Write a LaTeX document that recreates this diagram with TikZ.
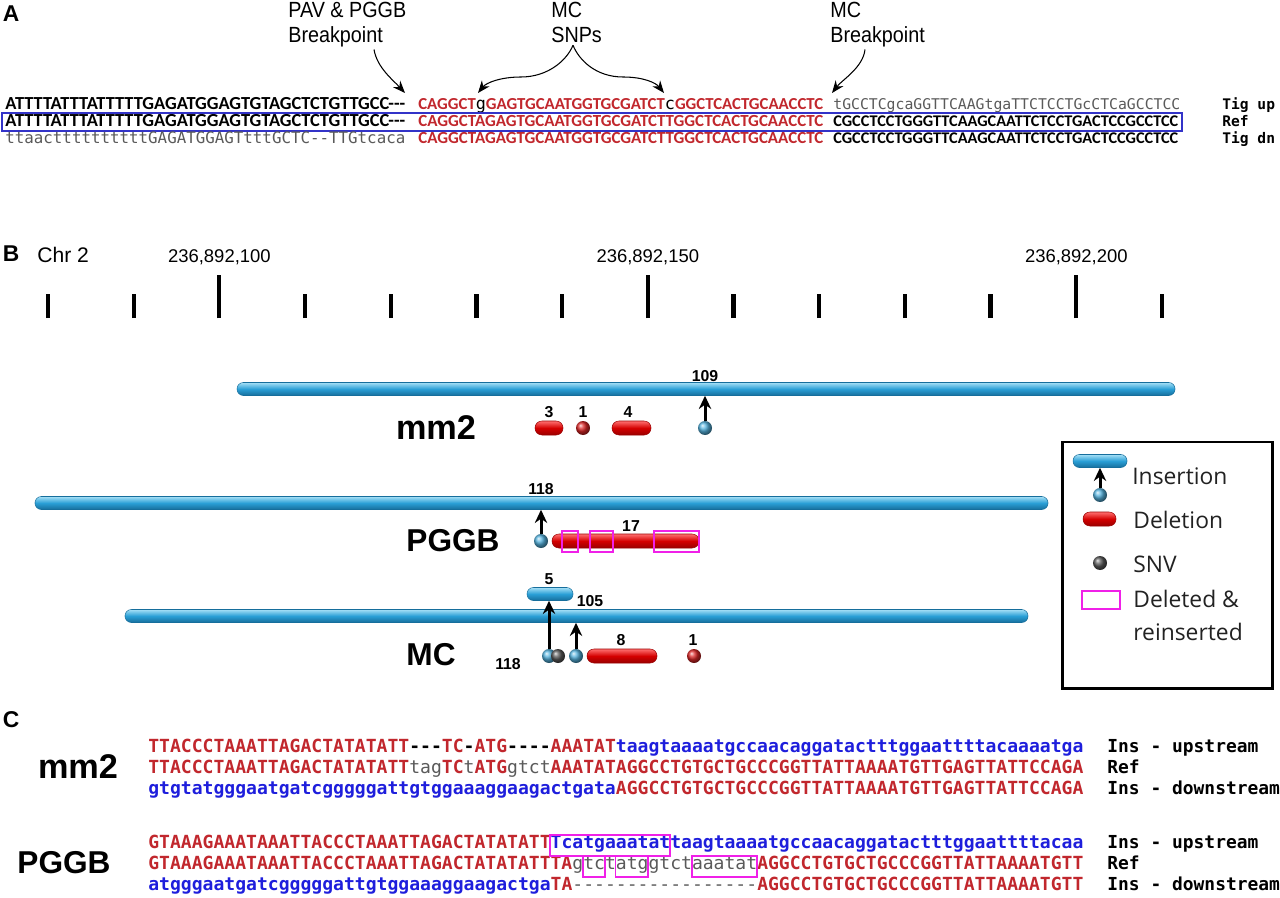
\documentclass[tikz,border=0pt]{standalone}
\usepackage{fontspec}
\setmainfont{Liberation Sans}
\newfontfamily\calfont{Carlito}
\newfontfamily\monofam{DejaVu Sans Mono}
\newfontfamily\legfont{Open Sans}
\newfontfamily\notefont{Liberation Sans}[FakeStretch=0.9]
\usepackage{graphicx}
\usetikzlibrary{positioning,arrows.meta,shadings,calc}
\newlength{\pxu}\setlength{\pxu}{0.02cm}
\definecolor{seqred}{HTML}{C1272D}
\definecolor{seqblue}{HTML}{1E1EDC}
\definecolor{seqgray}{HTML}{5A5A5A}
\definecolor{refline}{HTML}{3333C8}
\definecolor{insblue}{HTML}{2A9FD6}
\definecolor{inslight}{HTML}{A6E0F7}
\definecolor{insdark}{HTML}{166E9C}
\definecolor{delred}{HTML}{D40000}
\definecolor{dellight}{HTML}{FF7070}
\definecolor{deldark}{HTML}{9A0000}
\definecolor{reins}{HTML}{F020E8}
\definecolor{legink}{HTML}{222222}
\tikzset{
  panel/.style    = {font=\bfseries\fontsize{13}{15}\selectfont, inner sep=0pt},
  annot/.style    = {font=\notefont\fontsize{12.5}{14.2}\selectfont, align=left, inner sep=0pt},
  callout/.style  = {-{Stealth[length=7pt,width=5.5pt]}, line width=0.6pt},
  seqtxt/.style   = {anchor=base west, inner sep=0pt},
  taglbl/.style   = {anchor=base west, inner sep=0pt, font=\monofam\bfseries\fontsize{8.3}{10}\selectfont},
  rowlbl/.style   = {anchor=base west, inner sep=0pt, font=\monofam\bfseries\fontsize{10.2}{12}\selectfont},
  refframe/.style = {draw=refline, line width=0.6pt},
  tick/.style     = {line width=2.4pt},
  coordlbl/.style = {font=\fontsize{10.5}{12}\selectfont, inner sep=0pt},
  insbar/.style   = {draw=insdark, line width=0.3pt, top color=inslight, bottom color=insdark,
                     middle color=insblue, rounded corners=3.6pt, minimum height=13*0.02cm,
                     minimum width=#1*0.02cm, inner sep=0pt},
  delpill/.style  = {draw=deldark, line width=0.3pt, top color=dellight, bottom color=deldark,
                     middle color=delred, rounded corners=3.9pt, minimum height=14*0.02cm,
                     minimum width=#1*0.02cm, inner sep=0pt},
  insdot/.style   = {circle, inner sep=0pt, minimum size=14*0.02cm, ball color=insblue!80!white},
  deldot/.style   = {circle, inner sep=0pt, minimum size=14*0.02cm, ball color=delred!85!white},
  snvdot/.style   = {circle, inner sep=0pt, minimum size=14*0.02cm, ball color=black!65},
  insarrow/.style = {-{Stealth[length=7.5pt,width=7pt]}, line width=1.7pt},
  reinsbox/.style = {draw=reins, line width=1.1pt},
  numlbl/.style   = {font=\bfseries\fontsize{9}{10}\selectfont, inner sep=0pt},
  track/.style    = {font=\bfseries\fontsize{18}{20}\selectfont, inner sep=0pt},
  legtxt/.style   = {anchor=west, inner sep=0pt, font=\legfont\fontsize{13}{15}\selectfont, text=legink},
}
\newcommand{\seqat}[5]{\node[seqtxt] (#1) at (#2,#3) {\resizebox{#4\pxu}{!}{#5}};}
\newcommand{\calb}{\calfont\bfseries\fontsize{10}{12}\selectfont}
\newcommand{\monoa}{\monofam\fontsize{8.4}{10}\selectfont}
\newcommand{\monoc}{\monofam\bfseries\fontsize{10.27}{12}\selectfont}
\newcommand{\snpch}[1]{{\monofam\mdseries\color{black}#1}}
\newcommand{\sqR}[1]{{\color{seqred}#1}}
\newcommand{\sqB}[1]{{\color{seqblue}#1}}
\newcommand{\sqG}[1]{{\mdseries\color{seqgray}#1}}

\begin{document}
\begin{tikzpicture}[x=0.02cm,y=-0.02cm]
\useasboundingbox (0,0) rectangle (1280,898);

% ------------------------------------------------------------------ A
\node[panel] (lblA) at (11,14) {A};
\node[annot, anchor=north west] (pavlbl)  at (288,2) {PAV \& PGGB\\Breakpoint};
\node[annot, anchor=north west] (snplbl)  at (551,2) {MC\\SNPs};
\node[annot, anchor=north west] (mcbplbl) at (830,2) {MC\\Breakpoint};

\seqat{upL}{5}{109.5}{400}{\calb ATTTTATTTATTTTTGAGATGGAGTGTAGCTCTGTTGCC-{}-{}-}
\seqat{upM}{418}{109.5}{405}{\calb\color{seqred}CAGGCT\snpch{g}GAGTGCAATGGTGCGATCT\snpch{c}GGCTCACTGCAACCTC}
\seqat{upR}{833}{109.5}{347}{\monoa\color{seqgray}tGCCTCgcaGGTTCAAGtgaTTCTCCTGcCTCaGCCTCC}
\node[taglbl] (tagup) at (1222,109.5) {Tig up};

\seqat{refL}{5}{126.5}{400}{\calb ATTTTATTTATTTTTGAGATGGAGTGTAGCTCTGTTGCC-{}-{}-}
\seqat{refM}{418}{126.5}{405}{\calb\color{seqred}CAGGCTAGAGTGCAATGGTGCGATCTTGGCTCACTGCAACCTC}
\seqat{refR}{833}{126.5}{345}{\calb CGCCTCCTGGGTTCAAGCAATTCTCCTGACTCCGCCTCC}
\node[taglbl] (tagref) at (1222,126.5) {Ref};
\draw[refframe] (2,113) rectangle (1182,131);

\seqat{dnL}{5}{143.5}{400}{\monoa\color{seqgray}ttaacttttttttttGAGATGGAGTtttGCTC-{}-TTGtcaca}
\seqat{dnM}{418}{143.5}{405}{\calb\color{seqred}CAGGCTAGAGTGCAATGGTGCGATCTTGGCTCACTGCAACCTC}
\seqat{dnR}{833}{143.5}{345}{\calb CGCCTCCTGGGTTCAAGCAATTCTCCTGACTCCGCCTCC}
\node[taglbl] (tagdn) at (1222,143.5) {Tig dn};

\coordinate (pavtip)  at (405,93);
\coordinate (snptipL) at (478,93);
\coordinate (snptipR) at (664,93);
\coordinate (mcbptip) at (832,93);
\coordinate (snpfork) at ($(snplbl.south west)+(22,2)$);
\coordinate (snpmidL) at (521,77);
\coordinate (snpmidR) at (623,77);
\draw[callout] ($(pavlbl.south west)+(86,2)$) .. controls +(3,18) and +(-12,-13) .. (pavtip);
\draw[callout] (snpfork) .. controls +(-6,15) and +(27,0) .. (snpmidL) .. controls +(-21,0) and +(8,-10) .. (snptipL);
\draw[callout] (snpfork) .. controls +(6,15) and +(-27,0) .. (snpmidR) .. controls +(21,0) and +(-8,-10) .. (snptipR);
\draw[callout] ($(mcbplbl.south west)+(35,2)$) .. controls +(-2,18) and +(10,-13) .. (mcbptip);

% ------------------------------------------------------------------ B
\node[panel] (lblB) at (11,254) {B};
\node[anchor=west, inner sep=0pt, font=\fontsize{12}{14}\selectfont] (chr) at (37,255) {Chr 2};
\foreach \i in {0,...,13}{\draw[tick] ({48+85.69*\i},318) -- ({48+85.69*\i},294);}
\foreach \i/\lab in {2/{236,892,100},7/{236,892,150},12/{236,892,200}}{
  \draw[tick] ({48+85.69*\i},318) -- ({48+85.69*\i},275);
  \node[coordlbl] at ({48+85.69*\i},257) {\lab};}

% mm2
\node[insbar=938] (mmbar) at (706,389) {};
\node[track, font=\bfseries\fontsize{19.5}{22}\selectfont] (mmname) at (436,428) {mm2};
\node[delpill=28] (mmdel3) at (549,428) {};
\node[deldot] (mmdel1) at (583,428) {};
\node[delpill=39] (mmdel4) at (631.5,428) {};
\node[insdot] (mmins) at (705,428) {};
\node[numlbl, above=1.6pt of mmdel3] {3};
\node[numlbl, above=1.6pt of mmdel1] {1};
\node[numlbl, above=1.6pt of mmdel4, xshift=-2pt] {4};
\node[numlbl] (mmn109) at (705,376) {109};
\draw[insarrow] (mmins) -- (mmins |- mmbar.south);

% PGGB
\node[insbar=1013] (pgbar) at (541.5,503) {};
\node[track] (pgname) at (453,541) {PGGB};
\node[delpill=147] (pgdel17) at (625.5,541) {};
\node[insdot] (pgins) at (541,541) {};
\node[numlbl] (pgn118) at (541,489) {118};
\node[numlbl] (pgn17) at (631,526) {17};
\draw[insarrow] (pgins) -- (pgins |- pgbar.south);
\draw[reinsbox] (562,531) rectangle (578,552);
\draw[reinsbox] (590,531) rectangle (613,552);
\draw[reinsbox] (654,531) rectangle (699,552);

% MC
\node[insbar=903] (mcbar) at (576.5,616) {};
\node[insbar=46] (mcsmall) at (550,594) {};
\node[track] (mcname) at (431,655) {MC};
\node[insdot] (mcinsA) at (549,656) {};
\node[snvdot] (mcsnv) at (558,656) {};
\node[insdot] (mcinsB) at (576,656) {};
\node[delpill=70] (mcdel8) at (622,656) {};
\node[deldot] (mcdel1) at (694,656) {};
\node[numlbl] (mcn5) at (549,579) {5};
\node[numlbl] (mcn105) at (590,601) {105};
\node[numlbl] (mcn118) at (508,664) {118};
\node[numlbl] (mcn8) at (621,640) {8};
\node[numlbl] (mcn1) at (693,640) {1};
\draw[insarrow] (mcinsA) -- (mcinsA |- mcsmall.south);
\draw[insarrow] (mcinsB) -- (mcinsB |- mcbar.south);

% legend
\draw[line width=1.7pt] (1062,442) rectangle (1272,688);
\node[insbar=54] (legbar) at (1100,461) {};
\node[insdot] (legdot) at (1100,495) {};
\draw[insarrow] (legdot) -- (legbar.south);
\node[legtxt] (legins) at (1132,476) {Insertion};
\node[delpill=33] (legdel) at (1099.5,519) {};
\node[legtxt] (legdeltxt) at (1133,520) {Deletion};
\node[snvdot] (legsnv) at (1100,563) {};
\node[legtxt] (legsnvtxt) at (1133,564) {SNV};
\draw[reinsbox] (1082,591) rectangle (1120,609);
\node[legtxt] (legre1) at (1133,599) {Deleted \&};
\node[legtxt] (legre2) at (1133,632) {reinserted};

% ------------------------------------------------------------------ C
\node[panel] (lblC) at (11,720) {C};
\node[track, font=\bfseries\fontsize{19.5}{22}\selectfont] (cmm2) at (78,767) {mm2};
\node[track] (cpggb) at (64,863) {PGGB};

\seqat{mmup}{148}{752}{935}{\monoc\sqR{TTACCCTAAATTAGACTATATATT}-{}-{}-\sqR{TC}-\sqR{ATG}-{}-{}-{}-\sqR{AAATAT}\sqB{taagtaaaatgccaacaggatactttggaattttacaaaatga}}
\seqat{mmref}{148}{773}{935}{\monoc\sqR{TTACCCTAAATTAGACTATATATT}\sqG{tag}\sqR{TC}\sqG{t}\sqR{ATG}\sqG{gtct}\sqR{AAATATAGGCCTGTGCTGCCCGGTTATTAAAATGTTGAGTTATTCCAGA}}
\seqat{mmdn}{148}{794}{935}{\monoc\sqB{gtgtatgggaatgatcgggggattgtggaaaggaagactgata}\sqR{AGGCCTGTGCTGCCCGGTTATTAAAATGTTGAGTTATTCCAGA}}
\node[rowlbl] (mmupl)  at (1107,752) {Ins - upstream};
\node[rowlbl] (mmrefl) at (1107,773) {Ref};
\node[rowlbl] (mmdnl)  at (1107,794) {Ins - downstream};

\seqat{pgup}{148}{848}{935}{\monoc\sqR{GTAAAGAAATAAATTACCCTAAATTAGACTATATATT}\sqB{Tcatgaaatat}\sqB{taagtaaaatgccaacaggatactttggaattttacaa}}
\seqat{pgref}{148}{869}{935}{\monoc\sqR{GTAAAGAAATAAATTACCCTAAATTAGACTATATATTTA}\sqG{gtctatggtctaaatat}\sqR{AGGCCTGTGCTGCCCGGTTATTAAAATGTT}}
\seqat{pgdn}{148}{890}{935}{\monoc\sqB{atgggaatgatcgggggattgtggaaaggaagactga}\sqR{TA}\sqG{-{}-{}-{}-{}-{}-{}-{}-{}-{}-{}-{}-{}-{}-{}-{}-{}-}\sqR{AGGCCTGTGCTGCCCGGTTATTAAAATGTT}}
\node[rowlbl] (pgupl)  at (1107,848) {Ins - upstream};
\node[rowlbl] (pgrefl) at (1107,869) {Ref};
\node[rowlbl] (pgdnl)  at (1107,890) {Ins - downstream};

\draw[reinsbox] ({148+37*10.872},835) rectangle ({148+48*10.872},856);
\draw[reinsbox] ({148+40*10.872},856) rectangle ({148+42*10.872},877);
\draw[reinsbox] ({148+43*10.872},856) rectangle ({148+46*10.872},877);
\draw[reinsbox] ({148+50*10.872},856) rectangle ({148+56*10.872},877);

\end{tikzpicture}
\end{document}
